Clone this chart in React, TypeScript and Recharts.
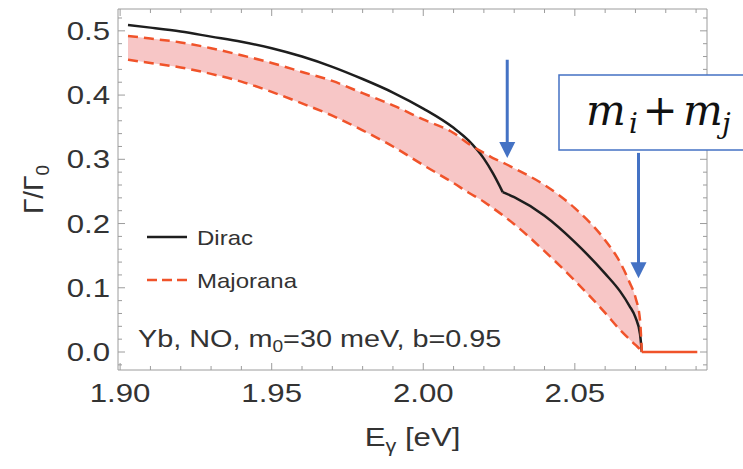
import React from 'react';
import { ComposedChart, Line, Area, XAxis, YAxis, ReferenceLine } from 'recharts';

// photon energy grid (eV) and decay-rate ratios
const energies = [1.9026, 1.91, 1.92, 1.93, 1.94, 1.95, 1.96, 1.97, 1.98, 1.99, 2.0, 2.01, 2.015, 2.02, 2.023, 2.0262, 2.03, 2.04, 2.05, 2.06, 2.065, 2.068, 2.07, 2.0715, 2.0721];
const dirac = [0.509, 0.505, 0.499, 0.491, 0.483, 0.473, 0.46, 0.444, 0.425, 0.404, 0.379, 0.349, 0.329, 0.301, 0.278, 0.249, 0.241, 0.212, 0.171, 0.122, 0.094, 0.072, 0.054, 0.028, 0];
const majoranaUpper = [0.492, 0.488, 0.482, 0.473, 0.462, 0.45, 0.436, 0.422, 0.403, 0.384, 0.362, 0.341, 0.324, 0.31, 0.302, 0.295, 0.286, 0.26, 0.224, 0.174, 0.139, 0.109, 0.085, 0.05, 0];
const majoranaLower = [0.455, 0.45, 0.443, 0.433, 0.421, 0.405, 0.387, 0.368, 0.345, 0.32, 0.291, 0.263, 0.248, 0.234, 0.224, 0.213, 0.199, 0.157, 0.111, 0.061, 0.034, 0.02, 0.011, 0.004, 0];
const diracKink = 2.0262;
const tailEnergies = [2.0721, 2.0904];
const tailValues = [0, 0];

const xMajor = [1.9, 1.95, 2.0, 2.05];
const xMinor = [1.91, 1.92, 1.93, 1.94, 1.96, 1.97, 1.98, 1.99, 2.01, 2.02, 2.03, 2.04, 2.06, 2.07, 2.08, 2.09];
const yMajor = [0, 0.1, 0.2, 0.3, 0.4, 0.5];
const yMinor = [-0.02, 0.02, 0.04, 0.06, 0.08, 0.12, 0.14, 0.16, 0.18, 0.22, 0.24, 0.26, 0.28, 0.32, 0.34, 0.36, 0.38, 0.42, 0.44, 0.46, 0.48, 0.52];

// arrows: [energy, from, to]
const arrows = [
  [2.0277, 0.455, 0.302],
  [2.071, 0.31, 0.115],
];

const xTicks = [...xMajor, ...xMinor].sort((a, b) => a - b);
const yTicks = [...yMajor, ...yMinor].sort((a, b) => a - b);

const rows: any[] = energies.map((e, i) => ({
  e,
  diracA: e <= diracKink + 1e-6 ? dirac[i] : undefined,
  diracB: e >= diracKink - 1e-6 ? dirac[i] : undefined,
  upper: majoranaUpper[i],
  lower: majoranaLower[i],
  band: [majoranaLower[i], majoranaUpper[i]],
}));
tailEnergies.forEach((e, i) => {
  const r = rows.find((row) => Math.abs(row.e - e) < 1e-6);
  if (r) r.tail = tailValues[i];
  else rows.push({ e, tail: tailValues[i] });
});

const AXIS = '#9c9c9c';
const TXT = '#333';
const RED = '#f0532a';
const BLUE = '#4472c4';
const FONT = '"Liberation Sans", Arial, sans-serif';
const SX = 1.2;

const isMajor = (v: number, list: number[]) => list.some((m) => Math.abs(m - v) < 1e-6);

const BottomTick = ({ x, y, payload }: any) => {
  const major = isMajor(payload.value, xMajor);
  return (
    <g>
      <line x1={x} x2={x} y1={y} y2={y - (major ? 7 : 4)} stroke={AXIS} />
      {major && (
        <text transform={`translate(${x},${y + 32}) scale(${SX},1)`} textAnchor="middle" fontSize={26} fontFamily={FONT} fill={TXT}>
          {payload.value.toFixed(2)}
        </text>
      )}
    </g>
  );
};

const LeftTick = ({ x, y, payload }: any) => {
  const major = isMajor(payload.value, yMajor);
  return (
    <g>
      <line x1={x} x2={x + (major ? 7 : 4)} y1={y} y2={y} stroke={AXIS} />
      {major && (
        <text transform={`translate(${x - 8},${y + 9}) scale(${SX},1)`} textAnchor="end" fontSize={26} fontFamily={FONT} fill={TXT}>
          {payload.value.toFixed(1)}
        </text>
      )}
    </g>
  );
};

const TopTick = ({ x, y, payload }: any) => (
  <line x1={x} x2={x} y1={y} y2={y + (isMajor(payload.value, xMajor) ? 7 : 4)} stroke={AXIS} />
);

const RightTick = ({ x, y, payload }: any) => (
  <line x1={x} x2={x - (isMajor(payload.value, yMajor) ? 7 : 4)} y1={y} y2={y} stroke={AXIS} />
);

const ArrowShape = (props: any) => {
  const { x1, y1, x2, y2 } = props;
  const head = 16;
  return (
    <g>
      <line x1={x1} x2={x2} y1={y1} y2={y2 - head + 1} stroke={BLUE} strokeWidth={3} />
      <polygon points={`${x2 - 8},${y2 - head} ${x2 + 8},${y2 - head} ${x2},${y2}`} fill={BLUE} />
    </g>
  );
};

const XLabel = ({ viewBox }: any) => (
  <text
    transform={`translate(${viewBox.x + viewBox.width / 2},446) scale(${SX},1)`}
    textAnchor="middle"
    fontSize={26}
    fontFamily={FONT}
    fill={TXT}
  >
    E<tspan fontSize={18} dy={6}>γ</tspan>
    <tspan dy={-6}> [eV]</tspan>
  </text>
);

const YLabel = ({ viewBox }: any) => (
  <text
    transform={`translate(43,${viewBox.y + viewBox.height / 2}) rotate(-90)`}
    textAnchor="middle"
    fontSize={28}
    fontFamily={FONT}
    fill={TXT}
  >
    Γ/Γ<tspan fontSize={19} dy={6}>0</tspan>
  </text>
);

export default function App() {
  return (
    <div style={{ position: 'absolute', left: 0, top: 0, width: 743, height: 469, background: '#fff', overflow: 'hidden' }}>
      <ComposedChart width={743} height={469} data={rows} margin={{ top: 8, right: 35, bottom: 98, left: 0 }}>
        <XAxis
          xAxisId="x"
          dataKey="e"
          type="number"
          domain={[1.8993, 2.0936]}
          allowDataOverflow
          ticks={xTicks}
          interval={0}
          tick={<BottomTick />}
          tickLine={false}
          tickSize={0}
          tickMargin={0}
          height={1}
          axisLine={{ stroke: AXIS }}
          label={{ content: <XLabel /> }}
        />
        <XAxis
          xAxisId="top"
          orientation="top"
          dataKey="e"
          type="number"
          domain={[1.8993, 2.0936]}
          allowDataOverflow
          ticks={xTicks}
          interval={0}
          tick={<TopTick />}
          tickLine={false}
          tickSize={0}
          tickMargin={0}
          height={1}
          axisLine={{ stroke: AXIS }}
        />
        <YAxis
          yAxisId="y"
          type="number"
          domain={[-0.028, 0.534]}
          allowDataOverflow
          ticks={yTicks}
          interval={0}
          tick={<LeftTick />}
          tickLine={false}
          tickSize={0}
          tickMargin={0}
          width={118}
          axisLine={{ stroke: AXIS }}
          label={{ content: <YLabel /> }}
        />
        <YAxis
          yAxisId="right"
          orientation="right"
          type="number"
          domain={[-0.028, 0.534]}
          allowDataOverflow
          ticks={yTicks}
          interval={0}
          tick={<RightTick />}
          tickLine={false}
          tickSize={0}
          tickMargin={0}
          width={1}
          axisLine={{ stroke: AXIS }}
        />
        <Area xAxisId="x" yAxisId="y" dataKey="band" type="monotone" stroke="none" fill="#f7c6c6" fillOpacity={1} isAnimationActive={false} />
        <Line xAxisId="x" yAxisId="y" dataKey="diracA" type="monotone" stroke="#1e1e1e" strokeWidth={2.5} dot={false} isAnimationActive={false} />
        <Line xAxisId="x" yAxisId="y" dataKey="diracB" type="monotone" stroke="#1e1e1e" strokeWidth={2.5} dot={false} isAnimationActive={false} />
        <Line xAxisId="x" yAxisId="y" dataKey="upper" type="monotone" stroke={RED} strokeWidth={2.5} strokeDasharray="10 6" dot={false} isAnimationActive={false} />
        <Line xAxisId="x" yAxisId="y" dataKey="lower" type="monotone" stroke={RED} strokeWidth={2.5} strokeDasharray="10 6" dot={false} isAnimationActive={false} />
        <Line xAxisId="x" yAxisId="y" dataKey="tail" type="linear" stroke={RED} strokeWidth={2.5} dot={false} isAnimationActive={false} />
        <Line xAxisId="top" yAxisId="right" dataKey="upper" stroke="none" dot={false} activeDot={false} isAnimationActive={false} />
        {arrows.map(([e, from, to], i) => (
          <ReferenceLine
            key={i}
            xAxisId="x"
            yAxisId="y"
            segment={[{ x: e, y: from }, { x: e, y: to }]}
            ifOverflow="visible"
            shape={<ArrowShape />}
          />
        ))}
      </ComposedChart>
      <svg width={743} height={469} style={{ position: 'absolute', left: 0, top: 0, pointerEvents: 'none' }}>
        <line x1={147} x2={187} y1={237} y2={237} stroke="#1e1e1e" strokeWidth={2.5} />
        <text transform={`translate(197,245) scale(${SX},1)`} fontSize={20} fontFamily={FONT} fill={TXT}>Dirac</text>
        <line x1={147} x2={187} y1={280} y2={280} stroke={RED} strokeWidth={2.5} strokeDasharray="10 5" />
        <text transform={`translate(197,288) scale(${SX},1)`} fontSize={20} fontFamily={FONT} fill={TXT}>Majorana</text>
        <text transform={`translate(138,347) scale(${SX},1)`} fontSize={24} fontFamily={FONT} fill={TXT}>
          Yb, NO, m<tspan fontSize={16} dy={5}>0</tspan>
          <tspan dy={-5}>=30 meV, b=0.95</tspan>
        </text>
        <rect x={559} y={75} width={200} height={75} fill="#fff" stroke={BLUE} strokeWidth={1.5} />
        <g fontFamily='"DejaVu Serif", serif' fontStyle="italic" fill="#111">
          <text x={586} y={125} fontSize={42}>m</text>
          <text x={629} y={133} fontSize={28}>i</text>
          <text x={660} y={125} fontSize={42} fontStyle="normal" textAnchor="middle">+</text>
          <text x={683} y={125} fontSize={42}>m</text>
          <text x={722} y={133} fontSize={28}>j</text>
        </g>
      </svg>
    </div>
  );
}
